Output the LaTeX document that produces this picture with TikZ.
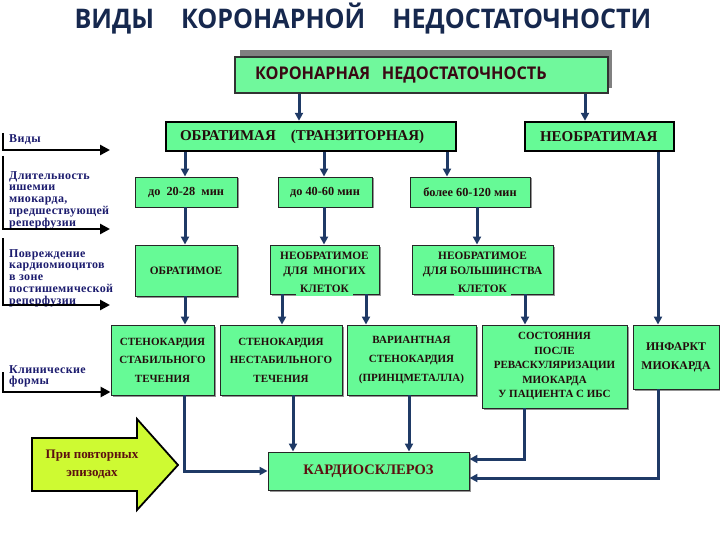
\documentclass[tikz,border=0pt]{standalone}
\usepackage{fontspec}
\setmainfont{Liberation Serif}
\newfontfamily\titlefont{Open Sans}[FakeStretch=0.93]
\newfontfamily\topfont{Open Sans}[FakeStretch=0.93]
\newfontfamily\lblfont{Liberation Serif}[LetterSpace=3]
\usetikzlibrary{arrows.meta,shadows}
\definecolor{boxgreen}{RGB}{102,250,150}
\definecolor{topgreen}{RGB}{112,248,156}
\definecolor{navy}{RGB}{31,58,102}
\definecolor{titleblue}{RGB}{22,40,78}
\definecolor{maroon}{RGB}{58,8,20}
\definecolor{boxtext}{RGB}{36,12,12}
\definecolor{darkred}{RGB}{92,16,16}
\definecolor{lblblue}{RGB}{28,28,110}
\definecolor{yellowg}{RGB}{206,250,50}
\definecolor{shadowgray}{RGB}{128,128,128}
\begin{document}
\begin{tikzpicture}[x=1pt,y=-1pt,
  gbox/.style={draw=black!85, line width=0.9pt, fill=boxgreen, inner sep=0pt, align=center,
    text=boxtext, font=\bfseries\fontsize{11.3}{16}\selectfont,
    drop shadow={shadow xshift=1.5pt,shadow yshift=-1.5pt,fill=black!70,opacity=0.6}},
  btxt/.style={inner sep=0pt, align=center, text=boxtext, font=\bfseries\fontsize{11.3}{15}\selectfont},
  mainbox/.style={draw=black, line width=2.4pt, fill=boxgreen, inner ysep=0pt, align=left,
    minimum height=29pt, text=boxtext, font=\bfseries\fontsize{15}{15}\selectfont},
  arr/.style={draw=navy, line width=3pt, -{Triangle[length=8pt,width=8pt]}},
  larr/.style={draw=black, line width=2.8pt, -{Triangle[length=10pt,width=10pt]}},
  lbl/.style={align=left, inner sep=0pt, text=lblblue, font=\lblfont\bfseries\fontsize{12}{11.8}\selectfont}
]
\useasboundingbox (0,0) rectangle (720,540);

% title
\node[font=\titlefont\bfseries\fontsize{27}{27}\selectfont, text=titleblue] (title) at (363,19)
  {ВИДЫ\quad КОРОНАРНОЙ\quad НЕДОСТАТОЧНОСТИ};

% top box
\fill[shadowgray] (240,50) rectangle (612,88);
\node[draw=black!80, line width=1.3pt, fill=topgreen, inner xsep=20pt, inner ysep=0pt,
  text width=333pt, minimum height=36pt, align=left, text=maroon,
  font=\topfont\bfseries\fontsize{17.5}{17.5}\selectfont] (top) at (421.5,75)
  {КОРОНАРНАЯ\ \ НЕДОСТАТОЧНОСТЬ};

% main boxes
\node[mainbox, text width=262pt, inner xsep=14pt] (obr) at (311,136.5) {ОБРАТИМАЯ\ \ \ (ТРАНЗИТОРНАЯ)};
\node[mainbox, text width=119pt, inner xsep=15pt] (neobr) at (599.5,136.5) {НЕОБРАТИМАЯ};

% duration
\node[gbox, minimum width=102pt, minimum height=30pt, font=\bfseries\fontsize{12.3}{13}\selectfont] (d1) at (186,192) {до\ \ 20-28\ \ мин};
\node[gbox, minimum width=94pt, minimum height=30pt, font=\bfseries\fontsize{12.3}{13}\selectfont] (d2) at (325,192) {до 40-60 мин};
\node[gbox, minimum width=120pt, minimum height=30pt, font=\bfseries\fontsize{12.3}{13}\selectfont] (d3) at (470,192) {более 60-120 мин};

% level 3
\node[gbox, minimum width=102pt, minimum height=51pt] (l1) at (186,270.5) {ОБРАТИМОЕ};
\node[gbox, minimum width=109pt, minimum height=49pt] (l2) at (324.5,269.5) {};
\node[btxt] (l2a) at (324.5,264.5) {НЕОБРАТИМОЕ\\ДЛЯ\ \ МНОГИХ};
\node[btxt, anchor=base, fill=boxgreen, inner xsep=4pt, inner ysep=1pt, text depth=3pt] (l2b) at (324.5,292) {КЛЕТОК};
\node[gbox, minimum width=141pt, minimum height=49pt] (l3) at (482.5,269.5) {};
\node[btxt] (l3a) at (482.5,264) {НЕОБРАТИМОЕ\\ДЛЯ БОЛЬШИНСТВА};
\node[btxt, anchor=base, fill=boxgreen, inner xsep=4pt, inner ysep=1pt, text depth=3pt] (l3b) at (482.5,292) {КЛЕТОК};

% level 4
\node[gbox, minimum width=103pt, minimum height=70pt, font=\bfseries\fontsize{11}{18.5}\selectfont] (c1) at (162.5,360) {СТЕНОКАРДИЯ\\СТАБИЛЬНОГО\\ТЕЧЕНИЯ};
\node[gbox, minimum width=122pt, minimum height=70pt, font=\bfseries\fontsize{11}{18.5}\selectfont] (c2) at (281,360) {СТЕНОКАРДИЯ\\НЕСТАБИЛЬНОГО\\ТЕЧЕНИЯ};
\node[gbox, minimum width=129pt, minimum height=70pt, font=\bfseries\fontsize{11}{19}\selectfont] (c3) at (411.5,360) {ВАРИАНТНАЯ\\СТЕНОКАРДИЯ\\(ПРИНЦМЕТАЛЛА)};
\node[gbox, minimum width=145pt, minimum height=83pt, font=\bfseries\fontsize{11}{14.5}\selectfont] (c4) at (554.5,366.5) {СОСТОЯНИЯ\\ПОСЛЕ\\РЕВАСКУЛЯРИЗАЦИИ\\МИОКАРДА\\У ПАЦИЕНТА С ИБС};
\node[gbox, minimum width=86pt, minimum height=64pt, font=\bfseries\fontsize{11.8}{19}\selectfont] (c5) at (676,357) {ИНФАРКТ\\МИОКАРДА};

% cardiosclerosis
\node[gbox, minimum width=201pt, minimum height=38pt, text=darkred, font=\bfseries\fontsize{14.5}{16}\selectfont] (kard) at (368.5,471) {КАРДИОСКЛЕРОЗ};

% yellow arrow
\draw[fill=yellowg, draw=black, line width=1.8pt, line join=miter]
  (32,438) -- (137,438) -- (137,419) -- (178,465) -- (137,510) -- (137,491) -- (32,491) -- cycle;
\node[align=center, text=darkred, font=\bfseries\fontsize{13}{18}\selectfont] (rep) at (92,464) {При повторных\\эпизодах};

% left labels
\node[lbl, anchor=west] (lv) at (9,140) {Виды};
\node[lbl, anchor=north west] (ld) at (9,171) {Длительность\\ишемии\\миокарда,\\предшествующей\\реперфузии};
\node[lbl, anchor=north west] (lp) at (9,249) {Повреждение\\кардиомиоцитов\\в зоне\\постишемической\\реперфузии};
\node[lbl, anchor=north west] (lk) at (9,365) {Клинические\\формы};

% left bracket arrows
\coordinate (b1s) at (3,133); \coordinate (b1e) at (110,150);
\coordinate (b2s) at (3,156); \coordinate (b2e) at (110,229);
\coordinate (b3s) at (3,238); \coordinate (b3e) at (110,305);
\coordinate (b4s) at (3,372); \coordinate (b4y) at (0,392);
\draw[larr] (b1s) |- (b1e);
\draw[larr] (b2s) |- (b2e);
\draw[larr] (b3s) |- (b3e);
\draw[larr] (b4s) |- (c1.west |- b4y);

% x helpers
\coordinate (X299) at (299,0); \coordinate (X585) at (585,0);
\coordinate (X185) at (185,0); \coordinate (X324) at (324,0);
\coordinate (X447) at (447,0); \coordinate (X477) at (477,0);
\coordinate (X282) at (282,0); \coordinate (X366) at (366,0);
\coordinate (X525) at (525,0); \coordinate (X658) at (658,0);
\coordinate (X184) at (184,0); \coordinate (X293) at (293,0);
\coordinate (X409) at (409,0); \coordinate (X524) at (524,0);
\coordinate (Y459) at (0,459); \coordinate (Y478) at (0,478);

\draw[arr] (top.south -| X299) -- (obr.north -| X299);
\draw[arr] (top.south -| X585) -- (neobr.north -| X585);
\draw[arr] (obr.south -| X185) -- (d1.north -| X185);
\draw[arr] (obr.south -| X324) -- (d2.north -| X324);
\draw[arr] (obr.south -| X447) -- (d3.north -| X447);
\draw[arr] (d1.south -| X185) -- (l1.north -| X185);
\draw[arr] (d2.south -| X324) -- (l2.north -| X324);
\draw[arr] (d3.south -| X477) -- (l3.north -| X477);
\draw[arr] (l1.south -| X185) -- (c1.north -| X185);
\draw[arr] (l2.south -| X282) -- (c2.north -| X282);
\draw[arr] (l2.south -| X366) -- (c3.north -| X366);
\draw[arr] (l3.south -| X525) -- (c4.north -| X525);
\draw[arr] (neobr.south -| X658) -- (c5.north -| X658);
\draw[arr] (c1.south -| X184) |- (kard.west);
\draw[arr] (c2.south -| X293) -- (kard.north -| X293);
\draw[arr] (c3.south -| X409) -- (kard.north -| X409);
\draw[arr] (c4.south -| X524) |- (kard.east |- Y459);
\draw[arr] (c5.south -| X658) |- (kard.east |- Y478);
\end{tikzpicture}
\end{document}
